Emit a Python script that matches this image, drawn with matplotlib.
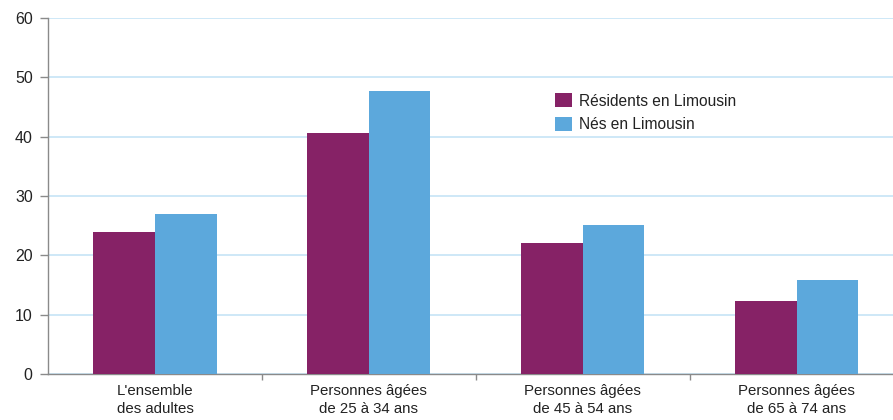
import matplotlib
matplotlib.use('Agg')
import matplotlib.pyplot as plt
import numpy as np

plt.rcParams['font.family'] = ['Liberation Sans', 'DejaVu Sans']

# data
categories = ["L'ensemble\ndes adultes",
              "Personnes âgées\nde 25 à 34 ans",
              "Personnes âgées\nde 45 à 54 ans",
              "Personnes âgées\nde 65 à 74 ans"]
residents = [24.0, 40.6, 22.1, 12.3]
nes = [27.0, 47.7, 25.1, 15.8]
series_labels = ['Résidents en Limousin', 'Nés en Limousin']
yticks = [0, 10, 20, 30, 40, 50, 60]

purple = '#862266'
blue = '#5ca8dc'
grid_col = '#c6e4f6'
axis_col = '#8a8a8a'
text_col = '#222222'

fig = plt.figure(figsize=(8.93, 4.2), dpi=100)
ax = fig.add_axes([48 / 893, 46 / 420, 845 / 893, 356 / 420])

x = np.arange(len(categories))
w = 0.288
ax.bar(x - w / 2, residents, w, color=purple, label=series_labels[0], zorder=3)
ax.bar(x + w / 2, nes, w, color=blue, label=series_labels[1], zorder=3)

ax.set_xlim(-0.5, 3.45)
ax.set_ylim(0, 60)
ax.set_yticks(yticks)
ax.yaxis.grid(True, color=grid_col, linewidth=1.2, zorder=0)
ax.set_axisbelow(True)

for s in ['top', 'right']:
    ax.spines[s].set_visible(False)
for s in ['left', 'bottom']:
    ax.spines[s].set_color(axis_col)
    ax.spines[s].set_linewidth(1.0)

ax.tick_params(axis='y', length=6, width=1, color=axis_col, labelsize=11.5,
               labelcolor=text_col, pad=5)
ax.set_xticks(x)
ax.set_xticklabels(categories, fontsize=10.8, linespacing=1.35, color=text_col)
ax.tick_params(axis='x', which='major', length=0, pad=7)
ax.set_xticks([0.5, 1.5, 2.5], minor=True)
ax.tick_params(axis='x', which='minor', length=4, width=1, color=axis_col)

leg = ax.legend(loc='upper left', bbox_to_anchor=(0.593, 0.806), frameon=False,
                fontsize=11.2, handlelength=1.1, handleheight=1.0, handletextpad=0.45,
                labelspacing=0.55, borderaxespad=0)
for t in leg.get_texts():
    t.set_color(text_col)

fig.savefig('out.png', dpi=100)
